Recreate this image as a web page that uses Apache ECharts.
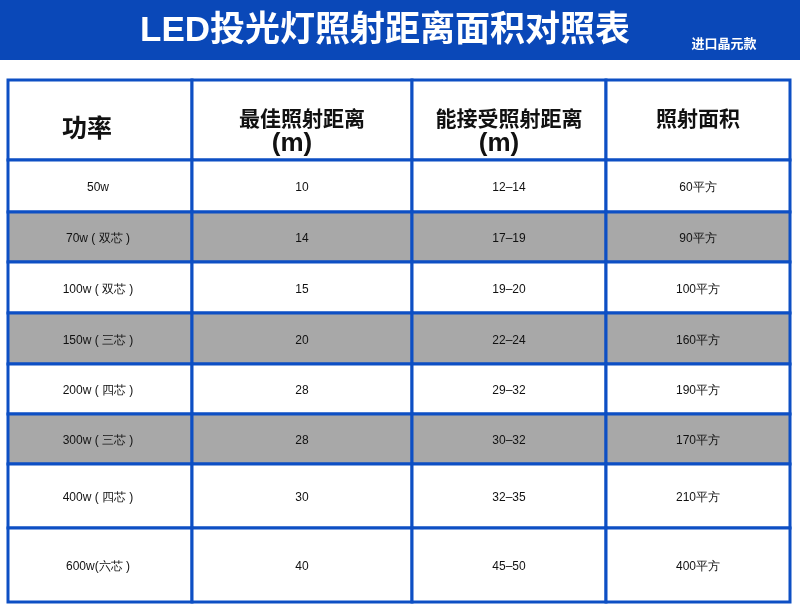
<!DOCTYPE html>
<html><head><meta charset="utf-8">
<script src="https://cdn.jsdelivr.net/npm/echarts@6/dist/echarts.min.js"></script>
<style>html,body{margin:0;padding:0;background:#fff}#c{width:800px;height:613px}</style>
</head><body><div id="c"></div>
<script>
// table content
const headers = ['功率', '最佳照射距离', '能接受照射距离', '照射面积'];
const powers = ['50w', '70w ( 双芯 )', '100w ( 双芯 )', '150w ( 三芯 )', '200w ( 四芯 )', '300w ( 三芯 )', '400w ( 四芯 )', '600w(六芯 )'];
const bestDist = ['10', '14', '15', '20', '28', '28', '30', '40'];
const okDist = ['12–14', '17–19', '19–20', '22–24', '29–32', '30–32', '32–35', '45–50'];
const areas = ['60平方', '90平方', '100平方', '160平方', '190平方', '170平方', '210平方', '400平方'];
const grayRows = [1, 3, 5];

// layout (pixels inside the grid)
const colEdges = [0, 184, 404, 598, 782];
const rowEdges = [0, 80, 132, 182, 233, 284, 334, 384, 448, 522];

const cells = [];
for (let c = 0; c < 4; c++) cells.push([0, c, headers[c]]);
powers.forEach((p, i) => {
  const r = i + 1;
  cells.push([r, 0, p], [r, 1, bestDist[i]], [r, 2, okDist[i]], [r, 3, areas[i]]);
});

const FONT = '"Liberation Sans", "Noto Sans CJK SC"';
const chart = echarts.init(document.getElementById('c'));
chart.setOption({
  backgroundColor: '#fff',
  animation: false,
  graphic: [
    { type: 'rect', shape: { x: 0, y: 0, width: 800, height: 60 }, style: { fill: '#0a48b8' } },
    { type: 'text', x: 385, y: 31, style: { text: 'LED投光灯照射距离面积对照表', fill: '#fff', font: 'bold 35px ' + FONT, align: 'center', verticalAlign: 'middle' } },
    { type: 'text', x: 724, y: 43, style: { text: '进口晶元款', fill: '#fff', font: 'bold 13px "Noto Sans CJK SC"', align: 'center', verticalAlign: 'middle' } }
  ],
  grid: { left: 8, top: 80, width: 782, height: 522 },
  xAxis: { type: 'value', min: 0, max: 782, show: false },
  yAxis: { type: 'value', min: 0, max: 522, inverse: true, show: false },
  series: [{
    type: 'custom',
    data: cells,
    renderItem: (params, api) => {
      const r = api.value(0), c = api.value(1);
      const txt = cells[params.dataIndex][2];
      const p0 = api.coord([colEdges[c], rowEdges[r]]);
      const p1 = api.coord([colEdges[c + 1], rowEdges[r + 1]]);
      const w = p1[0] - p0[0], h = p1[1] - p0[1];
      const fill = grayRows.includes(r - 1) ? '#a8a8a8' : '#fff';
      const children = [{
        type: 'rect', shape: { x: p0[0], y: p0[1], width: w, height: h },
        style: { fill: fill, stroke: '#0d4fc4', lineWidth: 3 }
      }];
      const cx = p0[0] + w / 2 + (c === 0 ? -2 : 0);
      if (r === 0 && c > 0 && c < 3) {
        children.push({ type: 'text', style: { x: cx, y: p0[1] + 38, text: txt, fill: '#111', font: 'bold 21px "Noto Sans CJK SC"', align: 'center', verticalAlign: 'middle' } });
        children.push({ type: 'text', style: { x: cx - 10, y: p0[1] + 64, text: '(m)', fill: '#111', font: 'bold 26px "Liberation Sans"', align: 'center', verticalAlign: 'middle' } });
      } else if (r === 0) {
        children.push({ type: 'text', style: { x: c === 0 ? 87 : cx, y: p0[1] + (c === 0 ? 47 : 38), text: txt, fill: '#111', font: c === 0 ? 'bold 25px "Noto Sans CJK SC"' : 'bold 21px "Noto Sans CJK SC"', align: 'center', verticalAlign: 'middle' } });
      } else {
        children.push({ type: 'text', style: { x: cx, y: p0[1] + h / 2 + 2, text: txt, fill: '#111', font: '21px ' + FONT, fontWeight: 500, align: 'center', verticalAlign: 'middle' } });
      }
      return { type: 'group', children: children };
    }
  }]
});
</script></body></html>
